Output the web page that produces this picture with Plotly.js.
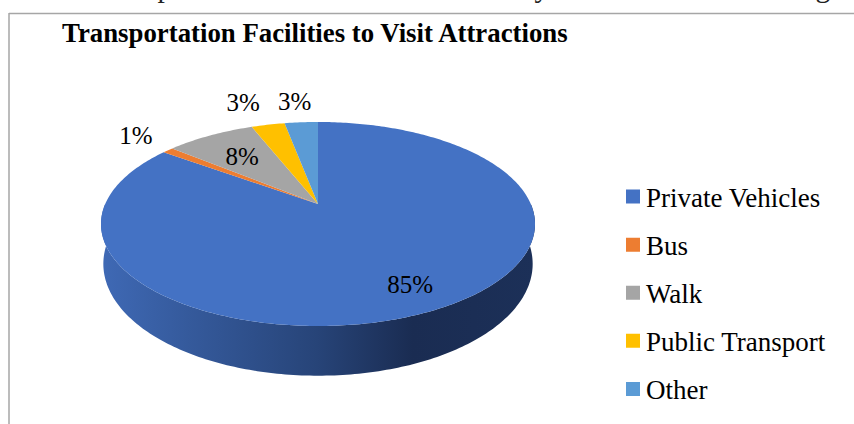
<!DOCTYPE html>
<html>
<head>
<meta charset="utf-8">
<script src="https://cdn.plot.ly/plotly-3.0.1.min.js"></script>
<style>html,body{margin:0;padding:0;background:#fff;overflow:hidden}</style>
</head>
<body>
<div id="chart" style="width:854px;height:424px"></div>
<script>
const categories = ['Private Vehicles', 'Bus', 'Walk', 'Public Transport', 'Other'];
const shares = [85, 1, 8, 3, 3];
const percentLabels = ['85%', '1%', '8%', '3%', '3%'];
const colors = ['#4472C4', '#ED7D31', '#A5A5A5', '#FFC000', '#5B9BD5'];

const chartTitle = 'Transportation Facilities to Visit Attractions';
const bodyLine = 'as well as in person.&nbsp; The results&nbsp; of the&nbsp; analysis can&nbsp; be&nbsp; seen&nbsp; in&nbsp; Figure';
const serif = '"Liberation Serif", "Times New Roman", serif';

// Tilted-disc projection: apex of the slices and its perspective factors.
const disc = {cx: 318, cy: 204, kx: 212.8, ky: 98.1, tilt: 0.196};
const rim = {cx: 318, cy: 242, kx: 210.5, ky: 107.5, tilt: 0.196};

function project(d, turn, radius) {
  const a = turn * 2 * Math.PI;
  const u = Math.sin(a) * radius, v = Math.cos(a) * radius;
  const w = 1 + d.tilt * v;
  return [d.cx + d.kx * u / w, d.cy - d.ky * v / w];
}

function arc(d, from, to, radius) {
  const n = Math.max(2, Math.ceil(Math.abs(to - from) * 400));
  const pts = [];
  for (let i = 0; i <= n; i++) pts.push(project(d, from + (to - from) * i / n, radius));
  return pts;
}

const total = shares.reduce((a, b) => a + b, 0);
const traces = [];

// Side wall: front half of the upper edge joined to the lower edge.
const wall = arc(disc, 0.25, 0.75, 1).concat(arc(rim, 0.75, 0.25, 1));
traces.push({
  type: 'scatter', mode: 'none', showlegend: false, hoverinfo: 'skip',
  x: wall.map(p => p[0]), y: wall.map(p => p[1]),
  fill: 'toself',
  fillgradient: {
    type: 'horizontal', start: 101, stop: 534,
    colorscale: [[0, '#3F69B5'], [0.2, '#355A9C'], [0.5, '#274478'], [0.72, '#1A2C52'], [1, '#1C3058']]
  }
});

// One filled wedge per category, clockwise from twelve o'clock.
let running = 0;
const labelX = [], labelY = [];
const labelRadius = [0.62, 1.3, 0.66, 1.27, 1.27];
const labelNudge = [[25, 22], [7, 1], [-1, 2], [-14, -3], [-3, -1]];
shares.forEach((share, i) => {
  const from = running / total, to = (running + share) / total;
  running += share;
  const pts = [[disc.cx, disc.cy]].concat(arc(disc, from, to, 1));
  pts.push([disc.cx, disc.cy]);
  traces.push({
    type: 'scatter', mode: 'none', showlegend: false, hoverinfo: 'skip',
    x: pts.map(p => p[0]), y: pts.map(p => p[1]),
    fill: 'toself', fillcolor: colors[i], legendgroup: categories[i]
  });
  const c = project(disc, (from + to) / 2, labelRadius[i]);
  labelX.push(c[0] + labelNudge[i][0]); labelY.push(c[1] + labelNudge[i][1]);
});

// Percentage labels placed along each wedge's bisector.
traces.push({
  type: 'scatter', mode: 'text', showlegend: false, hoverinfo: 'skip',
  x: labelX, y: labelY, text: percentLabels, textposition: 'middle center',
  textfont: {family: serif, size: 25, color: '#000'}
});

// Legend keys.
categories.forEach((name, i) => {
  traces.push({
    type: 'scatter', mode: 'markers', name: name, legendgroup: name,
    x: [null], y: [null],
    marker: {symbol: 'square', size: 14, color: colors[i]}
  });
});

const layout = {
  width: 854, height: 424,
  margin: {l: 0, r: 0, t: 0, b: 0},
  paper_bgcolor: '#fff', plot_bgcolor: 'rgba(0,0,0,0)',
  showlegend: true,
  xaxis: {range: [0, 854], visible: false, fixedrange: true},
  yaxis: {range: [424, 0], visible: false, fixedrange: true},
  legend: {
    x: 606 / 854, y: 1 - 172.5 / 424, xanchor: 'left', yanchor: 'top',
    traceorder: 'grouped', tracegroupgap: 10, bgcolor: 'rgba(0,0,0,0)',
    font: {family: serif, size: 27, color: '#000'}
  },
  shapes: [
    {type: 'line', xref: 'x', yref: 'y', x0: 9, x1: 854, y0: 13.5, y1: 13.5, line: {color: '#A6A6A6', width: 1.5}},
    {type: 'line', xref: 'x', yref: 'y', x0: 9, x1: 9, y0: 13, y1: 424, line: {color: '#A6A6A6', width: 1.5}}
  ],
  annotations: [
    {xref: 'x', yref: 'y', x: 60, y: 33, xanchor: 'left', yanchor: 'middle', showarrow: false,
     text: '<b>' + chartTitle + '</b>', font: {family: serif, size: 26.8, color: '#000'}},
    {xref: 'paper', yref: 'paper', x: 3 / 854, y: 1 + 13 / 424, xanchor: 'left', yanchor: 'middle', showarrow: false,
     text: bodyLine, font: {family: serif, size: 29.5, color: '#222'}}
  ]
};

Plotly.newPlot('chart', traces, layout, {displayModeBar: false, staticPlot: true}).then(() => {
  // Pull the legend keys closer to their labels.
  document.querySelectorAll('#chart .legendsymbols').forEach(g => g.setAttribute('transform', 'translate(7,0)'));
});
</script>
</body>
</html>
